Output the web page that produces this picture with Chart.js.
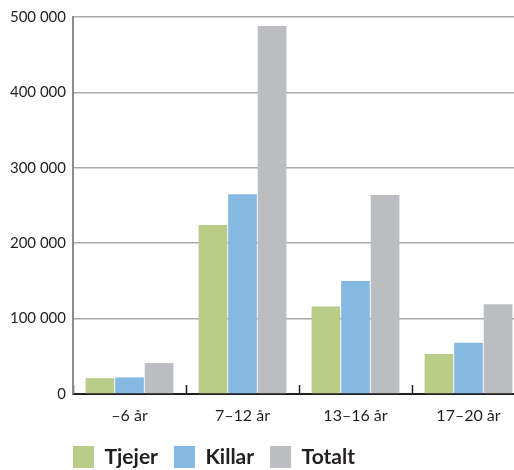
<!DOCTYPE html>
<html>
<head>
<meta charset="utf-8">
<script src="https://cdn.jsdelivr.net/npm/chart.js@4.4.1/dist/chart.umd.min.js"></script>
<style>
  html, body { margin: 0; padding: 0; overflow: hidden; background: #fff; }
  #wrap { width: 514px; height: 470px; overflow: hidden; }
</style>
</head>
<body>
<div id="wrap"><canvas id="c" width="525" height="478"></canvas></div>
<script>
const categories = ['–6 år', '7–12 år', '13–16 år', '17–20 år'];
const tjejer = [21000, 224000, 116000, 53000];
const killar = [22000, 265000, 150000, 68000];
const totalt = [41000, 488000, 264000, 119000];
const yTicks = [0, 100000, 200000, 300000, 400000, 500000];

const textColor = '#231f20';
const fmt = v => String(v).replace(/\B(?=(\d{3})+(?!\d))/g, ' ');

const legendShift = {
  id: 'legendShift',
  afterLayout(chart) {
    const lg = chart.legend;
    if (!lg) return;
    const target = chart.chartArea.left - lg.options.labels.padding;
    const d = lg.left - target;
    lg.left -= d;
    lg.right -= d;
  }
};

new Chart(document.getElementById('c'), {
  type: 'bar',
  data: {
    labels: categories,
    datasets: [
      { label: 'Tjejer', data: tjejer, backgroundColor: '#b9cc88' },
      { label: 'Killar', data: killar, backgroundColor: '#85b9e4' },
      { label: 'Totalt', data: totalt, backgroundColor: '#bcbdc1' }
    ]
  },
  options: {
    responsive: false,
    animation: false,
    layout: { padding: { top: 17, left: 0, right: 0, bottom: 0 } },
    datasets: { bar: { categoryPercentage: 0.785, barPercentage: 0.97, borderWidth: 0 } },
    plugins: {
      legend: {
        position: 'bottom',
        align: 'start',
        fullSize: false,
        labels: {
          boxWidth: 21,
          boxHeight: 22,
          padding: 16,
          color: textColor,
          font: { family: 'Lato', size: 21, weight: 'bold' }
        }
      },
      tooltip: { enabled: false }
    },
    scales: {
      x: {
        grid: {
          offset: true,
          drawOnChartArea: false,
          drawTicks: true,
          tickLength: -9,
          tickColor: '#231f20',
          tickWidth: 1.5
        },
        border: { color: '#231f20', width: 2 },
        ticks: {
          color: textColor,
          padding: 21,
          font: { family: 'Lato', size: 16 }
        },
        afterFit(scale) { scale.height = 36; }
      },
      y: {
        min: 0,
        max: 500000,
        afterBuildTicks(scale) { scale.ticks = yTicks.map(v => ({ value: v })); },
        grid: {
          color: ctx => (ctx.tick && ctx.tick.value === 0) ? '#231f20' : '#a9a9a9',
          lineWidth: 1.5,
          drawTicks: false
        },
        border: { color: '#8c8c8c', width: 2 },
        ticks: {
          color: textColor,
          padding: 7,
          font: { family: 'Lato', size: 15 },
          callback: v => fmt(v)
        },
        afterFit(scale) { scale.width = 73; }
      }
    }
  },
  plugins: [legendShift]
});
</script>
</body>
</html>
